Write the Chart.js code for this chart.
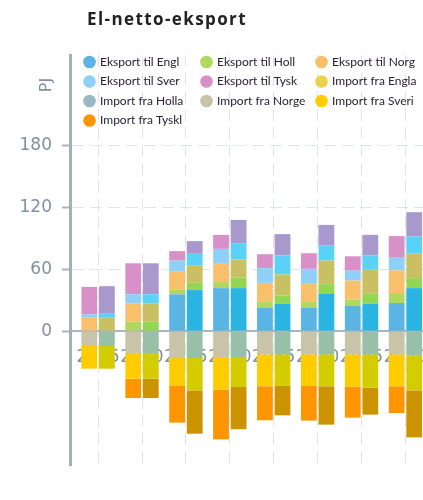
<!DOCTYPE html>
<html lang="no">
<head>
<meta charset="UTF-8">
<title>El-netto-eksport</title>
<script src="https://cdn.jsdelivr.net/npm/chart.js"></script>
<style>
  body { margin: 0; background: #fff; }
  #ramme { position: relative; width: 423px; height: 500px; }
  #tittel { position: absolute; left: 87px; top: 7px; font: bold 17px "Open Sans", sans-serif; letter-spacing: 1.4px; color: #222; }
</style>
</head>
<body>
<div id="ramme">
  <div id="tittel">El-netto-eksport</div>
  <canvas id="myChart"></canvas>
</div>

<script>
// år på x-aksen, og tikkene på y-aksen (PJ)
const aar = [2015, 2020, 2025, 2030, 2035, 2040, 2045, 2050];
const yTikk = [0, 60, 120, 180];

// serienavn (legenden viser bare de 16 første tegnene)
const navn = ['Eksport til England', 'Eksport til Holland', 'Eksport til Norge',
              'Eksport til Sverige', 'Eksport til Tyskland', 'Import fra England',
              'Import fra Holland', 'Import fra Norge', 'Import fra Sverige', 'Import fra Tyskland'];

// venstre søyle i hvert år
const eksEnglandA = [0, 0, 35.6, 41.7, 22.6, 22.6, 24.5, 27.2];
const eksHollandA = [0, 9.1, 4.8, 5.8, 5.5, 5.5, 6.1, 9.7];
const eksNorgeA   = [12.9, 17.5, 17.8, 17.8, 18.7, 17.8, 18.4, 22.0];
const eksSverigeA = [3.2, 9.1, 10.3, 14.5, 14.2, 14.5, 9.7, 12.3];
const eksTysklA   = [26.8, 30.1, 9.1, 13.6, 13.6, 15.2, 13.9, 21.0];
const impEnglandA = [0, 0, 0, 0, 0, 0, 0, 0];
const impHollandA = [0, 0, 0, 0, 0, 0, 0, 0];
const impNorgeA   = [-14.5, -22.0, -26.2, -25.2, -22.6, -22.6, -22.6, -22.6];
const impSverigeA = [-22.0, -24.2, -26.5, -31.7, -31.0, -30.1, -31.3, -31.0];
const impTysklA   = [0, -18.8, -36.2, -48.2, -33.0, -34.2, -30.1, -25.9];

// høyre søyle i hvert år
const eksEnglandB = [0, 0, 39.8, 41.7, 26.5, 36.5, 26.5, 41.7];
const eksHollandB = [0, 9.1, 7.1, 10.3, 8.1, 9.0, 9.7, 9.7];
const eksNorgeB   = [12.9, 17.5, 17.1, 17.5, 20.4, 23.0, 23.3, 24.2];
const eksSverigeB = [3.9, 9.1, 11.0, 15.8, 18.4, 14.9, 13.9, 16.2];
const eksTysklB   = [26.8, 30.1, 12.3, 22.6, 20.7, 19.7, 20.0, 23.6];
const impEnglandB = [0, 0, 0, 0, 0, 0, 0, 0];
const impHollandB = [0, 0, 0, 0, 0, 0, 0, 0];
const impNorgeB   = [-14.5, -22.0, -26.2, -25.2, -22.6, -22.6, -22.6, -23.6];
const impSverigeB = [-22.0, -24.2, -31.4, -29.1, -30.1, -31.0, -32.3, -34.0];
const impTysklB   = [0, -18.8, -42.0, -41.0, -29.1, -37.2, -26.2, -45.6];

const verdierA = [eksEnglandA, eksHollandA, eksNorgeA, eksSverigeA, eksTysklA,
                  impEnglandA, impHollandA, impNorgeA, impSverigeA, impTysklA];
const verdierB = [eksEnglandB, eksHollandB, eksNorgeB, eksSverigeB, eksTysklB,
                  impEnglandB, impHollandB, impNorgeB, impSverigeB, impTysklB];

const fargerA = ['#5ab4e4', '#b0d85c', '#f8c06a', '#8ed0f8', '#d890c8',
                 '#ecd050', '#98b8c4', '#c9c3a8', '#ffcc00', '#ff9500'];
const fargerB = ['#2ab4e2', '#92d652', '#c8c062', '#5ad2f8', '#a898cc',
                 '#d8c040', '#88a8b8', '#98c0a8', '#d2cc00', '#cc9300'];

function lagSett(verdier, farger, stabel){
    return verdier.map((v, i) => ({
        label: navn[i],
        data: v,
        stack: stabel,
        backgroundColor: farger[i],
        borderWidth: 0
    }));
}

// legende i tre kolonner inne i plottet, pluss enhet "PJ"
const legende = {
    id: 'legende',
    afterDraw(chart){
        const ctx = chart.ctx;
        const a = chart.chartArea;
        const kolX = [a.left + 30, a.left + 147, a.left + 262];
        ctx.save();
        ctx.font = '12px Lato, sans-serif';
        ctx.textBaseline = 'middle';
        navn.forEach((n, i) => {
            const x = kolX[i % 3];
            const y = a.top + 7 + Math.floor(i / 3) * 19.5;
            ctx.fillStyle = fargerA[i];
            ctx.beginPath();
            ctx.arc(x - 10.5, y, 6.3, 0, Math.PI * 2);
            ctx.fill();
            ctx.fillStyle = '#2a2233';
            ctx.fillText(n.slice(0, 16), x, y);
        });
        ctx.translate(a.left - 23, a.top + 30);
        ctx.rotate(-Math.PI / 2);
        ctx.font = '16px "DejaVu Sans", sans-serif';
        ctx.fillStyle = '#8190a0';
        ctx.textAlign = 'center';
        ctx.fillText('PJ', 0, 0);
        ctx.restore();
    }
};

const tikkFont = { family: '"DejaVu Sans", sans-serif', size: 17 };

const ctx = document.getElementById('myChart').getContext('2d');
const myChart = new Chart(ctx, {
    type: 'bar',
    data: {
        labels: aar,
        datasets: lagSett(verdierA, fargerA, 'A').concat(lagSett(verdierB, fargerB, 'B'))
    },
    options: {
        responsive: true,
        maintainAspectRatio: false,
        animation: false,
        layout: { padding: { top: 55, bottom: 35, left: 0, right: 0 }, autoPadding: false },
        plugins: { legend: { display: false }, tooltip: { enabled: false } },
        scales: {
            x: {
                type: 'linear',
                position: { y: 0 },
                offset: false,
                min: 2011.8,
                max: 2052,
                // siste årstall får gå ut over kanten
                afterFit: s => { s.paddingLeft = 0; s.paddingRight = 0; },
                afterBuildTicks: s => { s.ticks = aar.map(v => ({ value: v })); },
                ticks: {
                    callback: v => String(v),
                    padding: 16,
                    maxRotation: 0,
                    color: '#8190a0',
                    font: tikkFont
                },
                grid: { offset: false, color: '#dfe5ea', drawTicks: false },
                border: { color: '#aab5bd', width: 2, dash: [12, 6] }
            },
            y: {
                stacked: true,
                min: -130,
                max: 268,
                afterFit: s => { s.width = 70; },
                afterBuildTicks: s => { s.ticks = yTikk.map(v => ({ value: v })); },
                ticks: {
                    padding: 10,
                    color: '#8190a0',
                    font: tikkFont
                },
                grid: { color: '#dfe5ea', tickLength: 8, tickColor: '#aab5bd', tickWidth: 2, tickBorderDash: [] },
                border: { color: '#a4b0b9', width: 3, dash: [12, 6] }
            }
        }
    },
    plugins: [legende]
});
</script>
</body>
</html>
